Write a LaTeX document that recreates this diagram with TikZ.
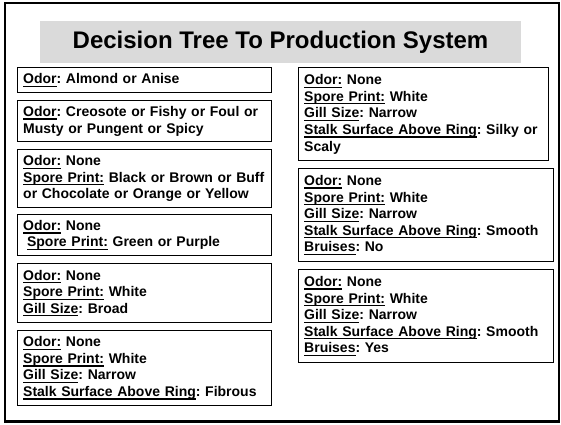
\documentclass[tikz,border=0pt]{standalone}
\usepackage{fontspec}
\setmainfont{Liberation Sans}
\frenchspacing
\definecolor{bandgrey}{RGB}{218,218,218}
% underline drawn at a fixed depth below the baseline
\newcommand\ulx[1]{\leavevmode\setbox0\hbox{#1}\rlap{\rule[-3.2pt]{\wd0}{1.3pt}}\box0\relax}
\begin{document}
\begin{tikzpicture}[x=1pt,y=-1pt,
  rulebox/.style={draw, line width=1.4pt, anchor=north west, align=left,
    inner xsep=5.5pt, inner ysep=0pt,
    font=\bfseries\fontsize{14}{16.6}\selectfont},
  leftbox/.style={rulebox, text width=243pt},
  titleband/.style={fill=bandgrey, minimum width=481pt, minimum height=42pt,
    inner sep=0pt, font=\bfseries\fontsize{24}{28}\selectfont}]
\useasboundingbox (0,0) rectangle (561,424);
% outer frame
\draw[line width=2.5pt] (5,3) rectangle (559,421.5);
% heading
\node[titleband] (title) at (280.5,42) {Decision Tree To Production System};
% left column of rules
\node[leftbox, minimum height=25pt] (l1) at (17,67)
  {\ulx{Odor}: Almond or Anise};
\node[leftbox, minimum height=41pt] (l2) at (17,100)
  {\ulx{Odor}: Creosote or Fishy or Foul or\\Musty or Pungent or Spicy};
\node[leftbox, minimum height=58pt] (l3) at (17,149)
  {\ulx{Odor:} None\\\ulx{Spore Print:} Black or Brown or Buff\\or Chocolate or Orange or Yellow};
\node[leftbox, minimum height=41pt] (l4) at (17,214)
  {\ulx{Odor:} None\\\hspace*{3.9pt}\ulx{Spore Print:} Green or Purple};
\node[leftbox, minimum height=59pt] (l5) at (17,263)
  {\ulx{Odor:} None\\\ulx{Spore Print:} White\\\ulx{Gill Size}: Broad};
\node[leftbox, minimum height=75pt] (l6) at (17,330)
  {\ulx{Odor:} None\\\ulx{Spore Print:} White\\\ulx{Gill Size}: Narrow\\\ulx{Stalk Surface Above Ring}: Fibrous};
% right column of rules
\node[rulebox, text width=239pt, minimum height=93pt] (r1) at (298,67)
  {\ulx{Odor:} None\\\ulx{Spore Print:} White\\\ulx{Gill Size}: Narrow\\\ulx{Stalk Surface Above Ring}: Silky or\\Scaly};
\node[rulebox, text width=244pt, minimum height=93pt] (r2) at (298,168)
  {\ulx{Odor:} None\\\ulx{Spore Print:} White\\\ulx{Gill Size}: Narrow\\\ulx{Stalk Surface Above Ring}: Smooth\\\ulx{Bruises}: No};
\node[rulebox, text width=244pt, minimum height=93pt] (r3) at (298,269)
  {\ulx{Odor:} None\\\ulx{Spore Print:} White\\\ulx{Gill Size}: Narrow\\\ulx{Stalk Surface Above Ring}: Smooth\\\ulx{Bruises}: Yes};
\end{tikzpicture}
\end{document}
